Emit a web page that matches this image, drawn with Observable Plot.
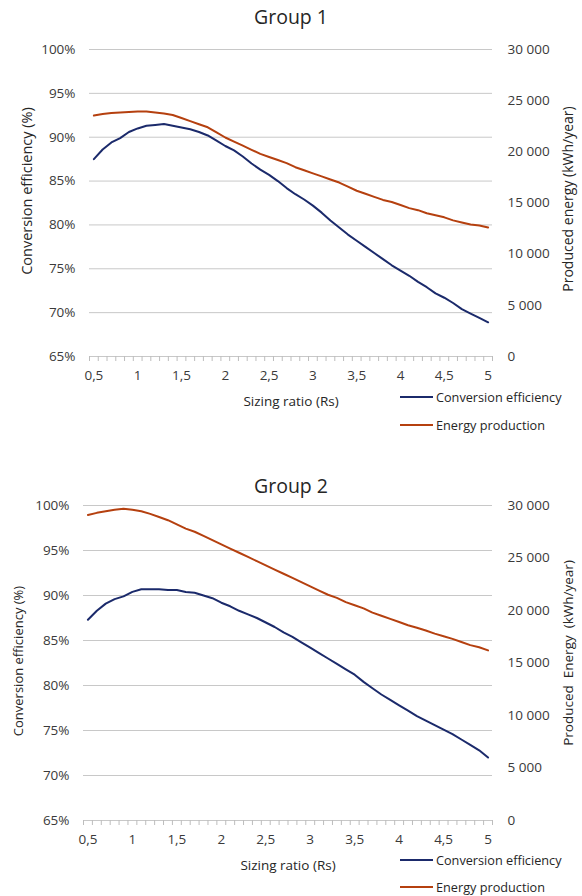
<!DOCTYPE html>
<html>
<head>
<meta charset="utf-8">
<script src="https://cdn.jsdelivr.net/npm/d3@7"></script>
<script src="https://cdn.jsdelivr.net/npm/@observablehq/plot@0.6"></script>
<style>
  body { margin: 0; background: #fff; font-family: "Open Sans", Lato, sans-serif; }
  #page { position: relative; width: 582px; height: 896px; overflow: hidden; }
  .title { position: absolute; left: 0; width: 582px; text-align: center; font-size: 19.5px; color: #262626; line-height: 1; }
  .panel { position: absolute; left: 0; }
  .legend { position: absolute; left: 400px; font-size: 12.7px; color: #262626; }
  .legend .row { position: absolute; left: 0; display: flex; align-items: center; white-space: nowrap; height: 16px; margin-top: -8px; }
  .legend .swatch { width: 33px; height: 2px; margin-right: 3px; }
</style>
</head>
<body>
<div id="page"></div>
<script>
// Sizing ratio categories (Rs)
const ratio = [0.5, 0.6, 0.7, 0.8, 0.9, 1.0, 1.1, 1.2, 1.3, 1.4, 1.5, 1.6, 1.7, 1.8, 1.9,
  2.0, 2.1, 2.2, 2.3, 2.4, 2.5, 2.6, 2.7, 2.8, 2.9, 3.0, 3.1, 3.2, 3.3, 3.4, 3.5, 3.6,
  3.7, 3.8, 3.9, 4.0, 4.1, 4.2, 4.3, 4.4, 4.5, 4.6, 4.7, 4.8, 4.9, 5.0];

// Group 1: conversion efficiency (%) and produced energy (kWh/year)
const group1Efficiency = [87.5, 88.6, 89.4, 89.9, 90.6, 91.0, 91.3, 91.4, 91.5, 91.3, 91.1, 90.9,
  90.6, 90.2, 89.6, 89.0, 88.5, 87.8, 87.0, 86.3, 85.7, 85.0, 84.2, 83.5, 82.9, 82.2, 81.4,
  80.5, 79.7, 78.9, 78.2, 77.5, 76.8, 76.1, 75.4, 74.8, 74.2, 73.5, 72.9, 72.2, 71.7, 71.1,
  70.4, 69.9, 69.4, 68.9];
const group1Energy = [23550, 23700, 23800, 23850, 23900, 23950, 23950, 23850, 23750, 23600,
  23300, 23000, 22700, 22400, 21900, 21400, 21000, 20600, 20200, 19800, 19500, 19200, 18900,
  18500, 18200, 17900, 17600, 17300, 17000, 16600, 16200, 15900, 15600, 15300, 15100, 14800,
  14500, 14300, 14000, 13800, 13600, 13300, 13100, 12900, 12800, 12600];

// Group 2: conversion efficiency (%) and produced energy (kWh/year)
const group2Efficiency = [87.3, 88.3, 89.1, 89.6, 89.9, 90.4, 90.7, 90.7, 90.7, 90.6, 90.6, 90.4,
  90.3, 90.0, 89.7, 89.2, 88.8, 88.3, 87.9, 87.5, 87.0, 86.5, 85.9, 85.4, 84.8, 84.2, 83.6,
  83.0, 82.4, 81.8, 81.2, 80.4, 79.7, 79.0, 78.4, 77.8, 77.2, 76.6, 76.1, 75.6, 75.1, 74.6,
  74.0, 73.4, 72.8, 72.0];
const group2Energy = [29100, 29300, 29450, 29600, 29700, 29600, 29450, 29200, 28900, 28600,
  28200, 27800, 27500, 27100, 26700, 26300, 25900, 25500, 25100, 24700, 24300, 23900, 23500,
  23100, 22700, 22300, 21900, 21500, 21200, 20800, 20500, 20200, 19800, 19500, 19200, 18900,
  18600, 18350, 18100, 17800, 17550, 17300, 17000, 16700, 16500, 16200];

// Axis ticks
const ratioTicks = [0.5, 1, 1.5, 2, 2.5, 3, 3.5, 4, 4.5, 5];
const efficiencyTicks = [65, 70, 75, 80, 85, 90, 95, 100];
const energyTicks = [0, 5000, 10000, 15000, 20000, 25000, 30000];

const seriesNames = ["Conversion efficiency", "Energy production"];
const colors = ["#1b2a6b", "#b5400f"];

// Energy shares the efficiency y scale: 0–30 000 kWh spans 65–100 %
const effMin = 65, effMax = 100, energyMax = 30000;
const energyToEff = e => effMin + (e / energyMax) * (effMax - effMin);
const effToEnergy = v => (v - effMin) / (effMax - effMin) * energyMax;

const commaDecimal = d => String(d).replace(".", ",");
const spaceThousands = d => d3.format(",")(Math.round(d)).replace(/,/g, " ");

// Category boundaries for the minor tick marks
const boundaries = [ratio[0] - 0.05, ...ratio.map(r => +(r + 0.05).toFixed(2))];

function panel({efficiency, energy, marginLeft, marginTop, plotHeight, marginBottom,
                leftTitle, rightTitle, leftOffset, rightOffset, leftSize, rightSize,
                leftShift, rightShift}) {
  const rows = ratio.map((r, i) => ({r, eff: efficiency[i], en: energyToEff(energy[i])}));
  return Plot.plot({
    width: 582,
    height: marginTop + plotHeight + marginBottom,
    marginLeft, marginRight: 90, marginTop, marginBottom,
    style: {fontFamily: "'Open Sans', Lato, sans-serif", fontSize: "13.5px", color: "#3a3a3a",
            background: "transparent", overflow: "visible"},
    x: {domain: [ratio[0] - 0.05, ratio[ratio.length - 1] + 0.05]},
    y: {domain: [effMin, effMax]},
    marks: [
      Plot.gridY(efficiencyTicks, {stroke: "#c8c8c8", strokeOpacity: 1, strokeWidth: 1}),
      Plot.axisX(boundaries, {tickSize: 5, tickFormat: () => "", stroke: "#bdbdbd", label: null}),
      Plot.axisX(ratioTicks, {tickSize: 0, tickPadding: 14, tickFormat: commaDecimal, label: null,
                              fontSize: 13.5}),
      Plot.axisY(efficiencyTicks, {anchor: "left", tickSize: 0, tickPadding: 14,
                                   tickFormat: d => d + "%", label: null, fontSize: 13.5}),
      Plot.axisY(energyTicks.map(energyToEff), {anchor: "right", tickSize: 0, tickPadding: 15,
                                   tickFormat: d => spaceThousands(effToEnergy(d)), label: null,
                                   fontSize: 13.5}),
      Plot.text([leftTitle], {frameAnchor: "left", textAnchor: "middle", lineAnchor: "middle",
                              rotate: -90, dx: -leftOffset, dy: leftShift,
                              fontSize: leftSize, fill: "#262626"}),
      Plot.text([rightTitle], {frameAnchor: "right", textAnchor: "middle", lineAnchor: "middle",
                               rotate: -90, dx: rightOffset, dy: rightShift,
                               fontSize: rightSize, fill: "#262626"}),
      Plot.text(["Sizing ratio (Rs)"], {frameAnchor: "bottom", lineAnchor: "middle", dy: 45,
                                        fontSize: 13.5, fill: "#262626"}),
      Plot.lineY(rows, {x: "r", y: "en", stroke: colors[1], strokeWidth: 2}),
      Plot.lineY(rows, {x: "r", y: "eff", stroke: colors[0], strokeWidth: 2})
    ]
  });
}

function legend(top, rowGap) {
  const box = document.createElement("div");
  box.className = "legend";
  box.style.top = top + "px";
  seriesNames.forEach((name, i) => {
    const row = document.createElement("div");
    row.className = "row";
    row.style.top = (i * rowGap) + "px";
    const sw = document.createElement("span");
    sw.className = "swatch";
    sw.style.background = colors[i];
    const label = document.createElement("span");
    label.textContent = name;
    row.append(sw, label);
    box.append(row);
  });
  return box;
}

const page = document.getElementById("page");

function addPanel(title, titleTop, svgTop, opts, legendTop, legendGap) {
  const t = document.createElement("div");
  t.className = "title";
  t.style.top = titleTop + "px";
  t.textContent = title;
  page.append(t);
  const wrap = document.createElement("div");
  wrap.className = "panel";
  wrap.style.top = svgTop + "px";
  wrap.append(panel(opts));
  page.append(wrap);
  page.append(legend(legendTop, legendGap));
}

addPanel("Group 1", 7, 30, {
  efficiency: group1Efficiency, energy: group1Energy,
  marginLeft: 89, marginTop: 19, plotHeight: 307, marginBottom: 54,
  leftTitle: "Conversion efficiency (%)", rightTitle: "Produced energy (kWh/year)",
  leftOffset: 62, rightOffset: 76, leftSize: 14.5, rightSize: 14,
  leftShift: -12, rightShift: -4
}, 397, 28);

addPanel("Group 2", 476, 480, {
  efficiency: group2Efficiency, energy: group2Energy,
  marginLeft: 83, marginTop: 25, plotHeight: 315, marginBottom: 60,
  leftTitle: "Conversion efficiency (%)", rightTitle: "Produced  Energy  (kWh/year)",
  leftOffset: 65, rightOffset: 76, leftSize: 13, rightSize: 13.5,
  leftShift: -2, rightShift: -10
}, 860, 27);
</script>
</body>
</html>
